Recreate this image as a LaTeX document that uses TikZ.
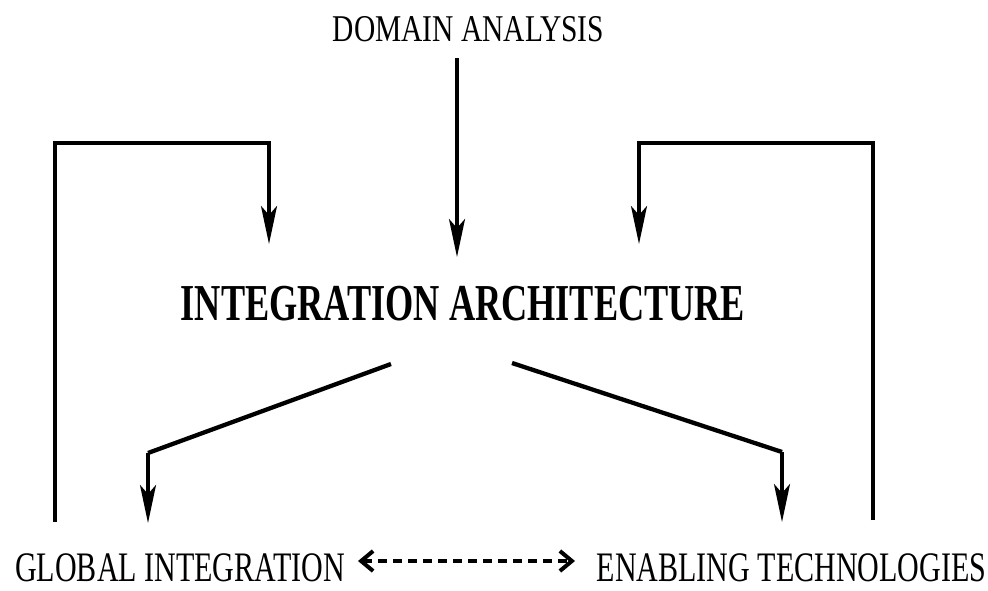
\documentclass[tikz,border=0pt]{standalone}
\usepackage{fontspec}
\usepackage{graphicx}
\setmainfont{Liberation Serif}
\usetikzlibrary{arrows.meta}

\tikzset{
  label text/.style={inner sep=0pt, anchor=base},
  conn/.style={line width=3.3pt, line join=miter, line cap=butt},
  slant/.style={line width=4.3pt, line join=miter},
  headed/.style={-{Stealth[length=38pt,width=16pt,inset=9pt]}},
  dualdash/.style={line width=3.5pt, dash pattern=on 9pt off 6pt,
    {Straight Barb[length=12pt,width=20pt,line width=4pt]}-{Straight Barb[length=12pt,width=20pt,line width=4pt]}}
}

\begin{document}
\begin{tikzpicture}[x=1pt,y=-1pt]
  \useasboundingbox (0,0) rectangle (988,591);

  % labels
  \node[label text] (domain) at (468.5,42)
    {\fontsize{37.8}{40}\selectfont\scalebox{0.78}[1]{DOMAIN ANALYSIS}};
  \node[label text] (arch) at (463,320)
    {\fontsize{51.8}{54}\selectfont\bfseries\scalebox{0.70}[1]{INTEGRATION ARCHITECTURE}};
  \node[label text] (global) at (180,581.5)
    {\fontsize{42}{44}\selectfont\scalebox{0.715}[1]{GLOBAL INTEGRATION}};
  \node[label text] (enabling) at (791.5,581.5)
    {\fontsize{42}{44}\selectfont\scalebox{0.715}[1]{ENABLING TECHNOLOGIES}};

  % connector end points
  \coordinate (dtop)  at (457,58);
  \coordinate (dtip)  at (457,257);
  \coordinate (lbot)  at (55,522);
  \coordinate (ltop)  at (55,143);
  \coordinate (lrt)   at (269,143);
  \coordinate (ltip)  at (269,244);
  \coordinate (rbot)  at (873,520);
  \coordinate (rtop)  at (873,143);
  \coordinate (rlf)   at (639,143);
  \coordinate (rtip)  at (639,244);
  \coordinate (lds)   at (391,364);
  \coordinate (ldc)   at (148,453);
  \coordinate (ldtip) at (148,523);
  \coordinate (rds)   at (512,363);
  \coordinate (rdc)   at (782,452);
  \coordinate (rdtip) at (782,522);
  \coordinate (gdash) at (358,561);
  \coordinate (edash) at (575,561);

  % domain analysis feeds the architecture
  \draw[conn,headed] (dtop) -- (dtip);

  % feedback loops from the two outcomes
  \draw[conn,headed] (lbot) -- (ltop) -- (lrt) -- (ltip);
  \draw[conn,headed] (rbot) -- (rtop) -- (rlf) -- (rtip);

  % architecture splits into the two outcomes
  \draw[slant] (lds) -- (ldc);
  \draw[conn,headed] (ldc) -- (ldtip);
  \draw[slant] (rds) -- (rdc);
  \draw[conn,headed] (rdc) -- (rdtip);

  % mutual link between the outcomes
  \draw[dualdash] (gdash) -- (edash);
\end{tikzpicture}
\end{document}
